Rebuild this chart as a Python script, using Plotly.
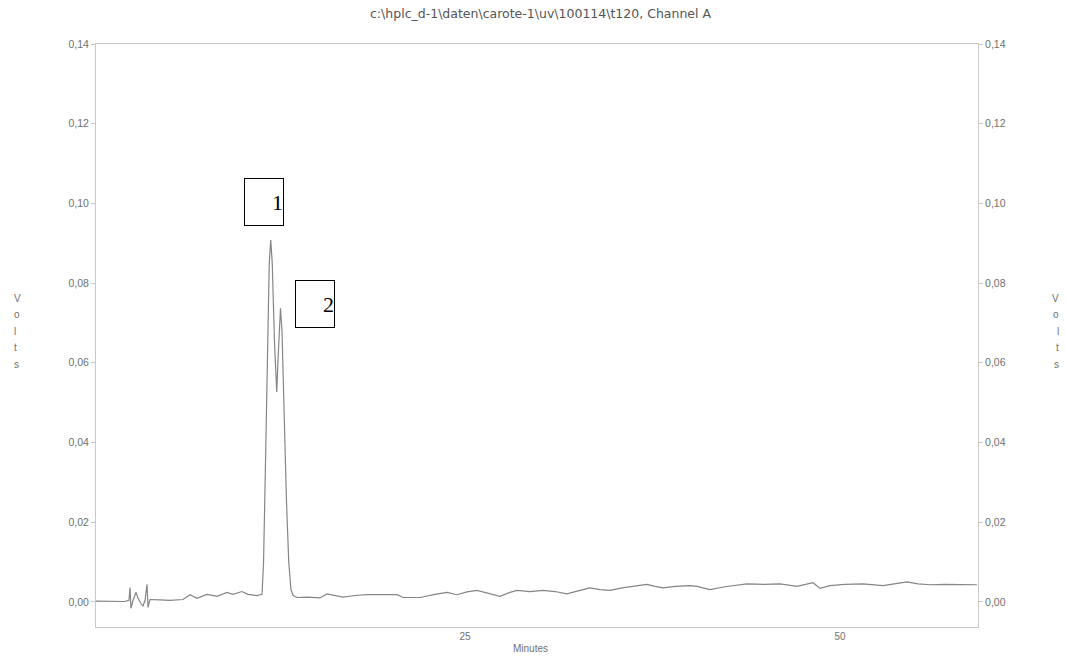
import plotly.graph_objects as go

# Retention time (minutes) and detector signal (volts)
time_min = [
    0.4, 1.3, 2.3, 2.6, 2.67, 2.73, 2.87, 3.07, 3.2, 3.4, 3.53, 3.67, 3.8, 3.87, 4.0,
    4.67, 5.33, 6.2, 6.67, 7.13, 7.8, 8.47, 9.13, 9.53, 10.13, 10.53, 11.13, 11.47,
    11.57, 11.7, 11.85, 11.95, 12.05, 12.15, 12.3, 12.45, 12.55, 12.7, 12.8, 12.95,
    13.1, 13.25, 13.4, 13.55, 13.8, 14.53, 15.33, 15.8, 16.33, 16.87, 17.67, 18.47,
    19.33, 20.47, 20.87, 22.0, 23.0, 23.8, 24.47, 25.13, 25.8, 26.67, 27.33, 28.0,
    28.47, 29.33, 30.2, 31.0, 31.8, 32.67, 33.33, 34.0, 34.67, 35.47, 36.2, 37.13,
    37.67, 38.2, 39.0, 40.0, 40.47, 41.33, 42.33, 43.8, 45.0, 46.0, 47.13, 48.2,
    48.67, 49.33, 50.33, 51.53, 52.87, 53.67, 54.47, 55.2, 56.0, 57.0, 58.0, 59.13,
]
signal_v = [
    0.0002, 0.0002, 0.0001, 0.0004, 0.0036, -0.0016, 0.0004, 0.0024, 0.0009, -0.0004,
    -0.0011, 0.0004, 0.0044, -0.0014, 0.0006,
    0.0005, 0.0004, 0.0006, 0.0018, 0.0009, 0.0019, 0.0014, 0.0024, 0.0019, 0.0026,
    0.0019, 0.0016, 0.0019,
    0.0100, 0.0350, 0.0650, 0.0850, 0.0908, 0.0850, 0.0650, 0.0527, 0.0620, 0.0737,
    0.0680, 0.0450,
    0.0250, 0.0100, 0.0030, 0.0016, 0.0011, 0.0012, 0.0010, 0.0020, 0.0016, 0.0012,
    0.0016, 0.0018,
    0.0018, 0.0018, 0.0011, 0.0011, 0.0019, 0.0024, 0.0018, 0.0025, 0.0029, 0.0021,
    0.0014, 0.0024,
    0.0029, 0.0026, 0.0029, 0.0026, 0.0020, 0.0029, 0.0035, 0.0031, 0.0029, 0.0035,
    0.0039, 0.0044,
    0.0039, 0.0035, 0.0039, 0.0041, 0.0039, 0.0031, 0.0038, 0.0045, 0.0044, 0.0045,
    0.0039, 0.0048,
    0.0034, 0.0041, 0.0044, 0.0045, 0.0041, 0.0046, 0.0050, 0.0045, 0.0043, 0.0044,
    0.0044, 0.0043,
]

y_ticks = [0.00, 0.02, 0.04, 0.06, 0.08, 0.10, 0.12, 0.14]
x_ticks = [25, 50]
title_text = "c:\\hplc_d-1\\daten\\carote-1\\uv\\100114\\t120, Channel A"
y_title = "Volts"
x_title = "Minutes"
peak_labels = ["1", "2"]
peak_label_pos = [(11.63, 0.1003), (15.0, 0.0747)]

x_range = [0.4, 59.2]
y_range = [-0.0063, 0.14]

font_family = "Liberation Sans, Arial, sans-serif"
title_family = "DejaVu Sans, sans-serif"
grey = "#707070"
frame = "#c8c8c8"

fig = go.Figure()
fig.add_trace(go.Scatter(
    x=time_min, y=signal_v, mode="lines",
    line=dict(color="#858585", width=1.2),
    hoverinfo="skip", showlegend=False,
))
# duplicate (invisible) on the right axis so it is rendered
fig.add_trace(go.Scatter(
    x=time_min, y=signal_v, mode="lines", yaxis="y2",
    line=dict(color="rgba(0,0,0,0)", width=0),
    hoverinfo="skip", showlegend=False,
))

axis_common = dict(
    range=y_range, tickvals=y_ticks, tickformat=".2f",
    showgrid=False, zeroline=False,
    ticks="outside", ticklen=4, tickcolor=frame,
    tickfont=dict(family=font_family, size=10.5, color=grey),
    showline=True, linecolor=frame, linewidth=1,
)

fig.update_layout(
    width=1066, height=658,
    margin=dict(l=96, r=88, t=44, b=31),
    paper_bgcolor="white", plot_bgcolor="white",
    separators=", ",
    xaxis=dict(
        range=x_range, tickvals=x_ticks, showgrid=False, zeroline=False,
        ticks="", tickfont=dict(family=font_family, size=10, color=grey),
        showline=True, linecolor=frame, linewidth=1, mirror=True,
    ),
    yaxis=dict(side="left", **axis_common),
    yaxis2=dict(side="right", overlaying="y", **axis_common),
)

annotations = [
    dict(text=title_text, xref="paper", yref="paper", x=0.504, y=1, yshift=31,
         yanchor="middle", showarrow=False,
         font=dict(family=title_family, size=12.5, color="#555555")),
    dict(text=x_title, xref="paper", yref="paper", x=0.493, y=0, yshift=-21,
         yanchor="middle", showarrow=False,
         font=dict(family=font_family, size=10, color=grey)),
]
# stacked "Volts" letters on both sides
for i, ch in enumerate(y_title):
    for xp, xs in ((0, -84), (1, 83)):
        annotations.append(dict(
            text=ch, xref="paper", yref="paper", x=xp, xshift=xs,
            y=1, yshift=-(254 + 16.5 * i), yanchor="middle", showarrow=False,
            font=dict(family=font_family, size=10, color=grey)))
for lab, (px, py) in zip(peak_labels, peak_label_pos):
    annotations.append(dict(
        text=lab, x=px, y=py, xref="x", yref="y", showarrow=False,
        font=dict(family="Liberation Serif, Times New Roman, serif", size=22, color="black"),
        bordercolor="black", borderwidth=1, borderpad=0, bgcolor="white",
        width=38, height=46, align="right", valign="middle",
    ))
fig.update_layout(annotations=annotations)

fig.write_html("out.html", config={"displayModeBar": False},
               post_script="document.body.style.margin='0';")
